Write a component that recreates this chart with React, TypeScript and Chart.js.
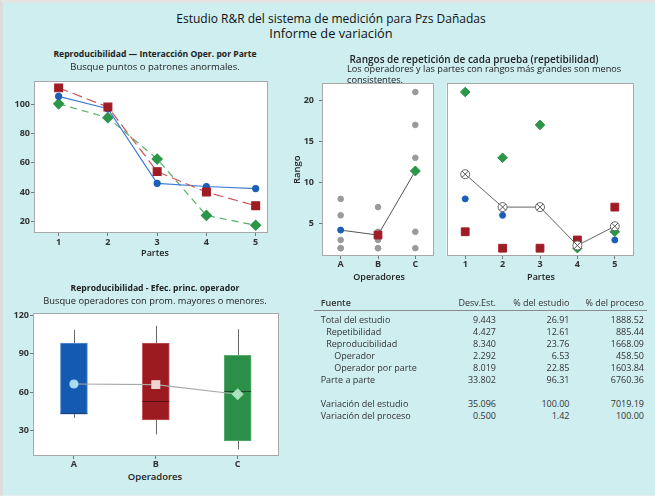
import React, { useEffect, useRef } from 'react';
import { Chart, registerables } from 'chart.js';
Chart.register(...registerables);

const FONT = "'Open Sans', sans-serif";

// ---------- data ----------
const parts = ['1', '2', '3', '4', '5'];
const operators = ['A', 'B', 'C'];

// Interaction plot: average measurement per part, by operator
const avgA = [105.5, 97, 46, 43.8, 42.4];
const avgB = [111.3, 98.2, 54, 40, 30.7];
const avgC = [100.4, 90.9, 62.6, 24, 17.3];

// Ranges per part, by operator
const rangeA = [8, 6, 2, 2, 3];
const rangeB = [4, 2, 2, 3, 7];
const rangeC = [21, 13, 17, 2, 4];

// Box plot (per operator)
const boxMin = [40, 27, 15.4];
const boxQ1 = [43, 38.4, 22];
const boxMed = [44, 53.5, 61.3];
const boxQ3 = [98.4, 98.4, 89];
const boxMax = [108.8, 112, 109.3];
const boxMean = [66.5, 66, 58.5];

const interTicks = [20, 40, 60, 80, 100];
const rangeTicks = [5, 10, 15, 20];
const boxTicks = [30, 60, 90, 120];

// Table
const tableHeaders = ['Fuente', 'Desv.Est.', '% del estudio', '% del proceso'];
const tableSources = ['Total del estudio', 'Repetibilidad', 'Reproducibilidad', 'Operador', 'Operador por parte', 'Parte a parte', 'Variación del estudio', 'Variación del proceso'];
const tableIndent = [0, 1, 1, 2, 2, 0, 0, 0];
const tableSd = ['9.443', '4.427', '8.340', '2.292', '8.019', '33.802', '35.096', '0.500'];
const tableStudy = ['26.91', '12.61', '23.76', '6.53', '22.85', '96.31', '100.00', '1.42'];
const tableProcess = ['1888.52', '885.44', '1668.09', '458.50', '1603.84', '6760.36', '7019.19', '100.00'];

// ---------- styles ----------
const blueM = '#1a5fb8';
const redM = '#a01c24';
const greenM = '#2c9648';
const grayP = '#9a9a9a';

const mean = (a: number[]) => a.reduce((s, v) => s + v, 0) / a.length;

const tickFont = { family: FONT, size: 9, weight: 'bold' as const };

const framePlugin = {
  id: 'frame',
  beforeDraw(chart: any) {
    const { ctx, chartArea: a } = chart;
    ctx.save();
    ctx.fillStyle = '#ffffff';
    ctx.fillRect(a.left, a.top, a.right - a.left, a.bottom - a.top);
    ctx.restore();
  },
  beforeDatasetsDraw(chart: any) {
    const { ctx, chartArea: a } = chart;
    ctx.save();
    ctx.strokeStyle = '#a8a8a8';
    ctx.lineWidth = 1;
    ctx.strokeRect(Math.round(a.left) + 0.5, Math.round(a.top) + 0.5, Math.round(a.right - a.left) - 1, Math.round(a.bottom - a.top) - 1);
    ctx.restore();
  },
};

function yScale(min: number, max: number, ticks: number[], width: number, tickLen: number, pad: number, display = true) {
  return {
    type: 'linear' as const,
    min,
    max,
    display,
    afterBuildTicks: (s: any) => { s.ticks = ticks.map((v) => ({ value: v })); },
    afterFit: (s: any) => { s.width = width; },
    grid: { drawOnChartArea: false, drawTicks: true, tickLength: tickLen, color: '#777' },
    border: { display: false },
    ticks: { font: tickFont, color: '#333', padding: pad },
  };
}

function xCat(height: number, tickLen: number, pad: number) {
  return {
    type: 'category' as const,
    offset: true,
    afterFit: (s: any) => { s.height = height; },
    grid: { drawOnChartArea: false, drawTicks: true, tickLength: tickLen, color: '#777', offset: false },
    border: { display: false },
    ticks: { font: tickFont, color: '#333', padding: pad },
  };
}

const boxPlugin = {
  id: 'boxparts',
  beforeDatasetsDraw(chart: any) {
    const x = chart.scales.x, y = chart.scales.y, ctx = chart.ctx;
    ctx.save();
    ctx.strokeStyle = '#6a6a6a';
    ctx.lineWidth = 1;
    operators.forEach((_, i) => {
      const px = Math.round(x.getPixelForValue(i)) + 0.5;
      ctx.beginPath();
      ctx.moveTo(px, y.getPixelForValue(boxMax[i]));
      ctx.lineTo(px, y.getPixelForValue(boxQ3[i]));
      ctx.moveTo(px, y.getPixelForValue(boxQ1[i]));
      ctx.lineTo(px, y.getPixelForValue(boxMin[i]));
      ctx.stroke();
    });
    ctx.restore();
  },
  afterDatasetDraw(chart: any, args: any) {
    if (args.index !== 1) return;
    const y = chart.scales.y, ctx = chart.ctx;
    const meta = chart.getDatasetMeta(1);
    ctx.save();
    ctx.strokeStyle = 'rgba(0,0,0,0.45)';
    ctx.lineWidth = 1;
    meta.data.forEach((bar: any, i: number) => {
      const { x, width } = bar.getProps(['x', 'width'], true);
      const py = Math.round(y.getPixelForValue(boxMed[i])) + 0.5;
      ctx.beginPath();
      ctx.moveTo(x - width / 2, py);
      ctx.lineTo(x + width / 2, py);
      ctx.stroke();
    });
    ctx.restore();
  },
};

type TP = { x: number; y: number; s?: number; w?: any; a?: 'left' | 'center' | 'right'; c?: string; rot?: boolean; children: any };
function T({ x, y, s = 9.5, w = 'normal', a = 'center', c = '#222', rot = false, children }: TP) {
  const lh = s + 4;
  let tx = '0';
  if (a === 'center') tx = '-50%';
  if (a === 'right') tx = '-100%';
  const style: React.CSSProperties = {
    position: 'absolute',
    left: x,
    top: y - lh / 2,
    fontFamily: FONT,
    fontSize: s,
    fontWeight: w,
    lineHeight: lh + 'px',
    color: c,
    whiteSpace: 'nowrap',
    transform: rot ? `translateX(-50%) rotate(-90deg)` : `translateX(${tx})`,
    transformOrigin: 'center center',
  };
  return <div style={style}>{children}</div>;
}

export default function App() {
  const c1 = useRef<HTMLCanvasElement>(null);
  const c2 = useRef<HTMLCanvasElement>(null);
  const c3 = useRef<HTMLCanvasElement>(null);
  const c4 = useRef<HTMLCanvasElement>(null);

  useEffect(() => {
    const charts: Chart[] = [];
    const base = {
      responsive: false,
      animation: false as const,
      plugins: { legend: { display: false }, tooltip: { enabled: false }, title: { display: false } },
    };

    // Interaction plot
    const pnum = parts.map(Number);
    charts.push(new Chart(c1.current!, {
      type: 'line',
      data: {
        datasets: [
          { data: avgB.map((v, i) => ({ x: pnum[i], y: v })), borderColor: '#c8545a', borderWidth: 1.2, borderDash: [10, 5], pointStyle: 'rect', pointRadius: 5.5, pointBackgroundColor: redM, pointBorderColor: redM, order: 0 },
          { data: avgA.map((v, i) => ({ x: pnum[i], y: v })), borderColor: '#3f7cd6', borderWidth: 1.2, pointStyle: 'circle', pointRadius: 3, pointBackgroundColor: blueM, pointBorderColor: blueM, order: 1 },
          { data: avgC.map((v, i) => ({ x: pnum[i], y: v })), borderColor: '#54b06a', borderWidth: 1.2, borderDash: [7, 5], pointStyle: 'rectRot', pointRadius: 5, pointBackgroundColor: greenM, pointBorderColor: greenM, order: 2 },
        ],
      },
      options: {
        ...base,
        layout: { padding: { top: 11, right: 17, left: 0, bottom: 0 } },
        scales: {
          x: {
            type: 'linear', min: 0.5, max: 5.25,
            afterBuildTicks: (s: any) => { s.ticks = pnum.map((v) => ({ value: v })); },
            afterFit: (s: any) => { s.height = 22; },
            grid: { drawOnChartArea: false, drawTicks: true, tickLength: 3, color: '#777' },
            border: { display: false },
            ticks: { font: tickFont, color: '#333', padding: 1 },
          },
          y: yScale(12, 116, interTicks, 34, 3, 1),
        },
      },
      plugins: [framePlugin],
    } as any));

    // Range by operator
    const grayPts = [
      ...rangeA.map((v) => ({ x: 'A', y: v })),
      ...rangeB.map((v) => ({ x: 'B', y: v })),
      ...rangeC.map((v) => ({ x: 'C', y: v })),
    ];
    charts.push(new Chart(c2.current!, {
      type: 'line',
      data: {
        labels: operators,
        datasets: [
          { data: [mean(rangeA), mean(rangeB), mean(rangeC)], borderColor: '#555', borderWidth: 1, pointStyle: ['circle', 'rect', 'rectRot'], pointRadius: [3, 5.5, 5], pointBackgroundColor: [blueM, redM, greenM], pointBorderColor: [blueM, redM, greenM], order: 0 },
          { data: grayPts, showLine: false, pointStyle: 'circle', pointRadius: 2.8, pointBackgroundColor: grayP, pointBorderColor: grayP, order: 1 },
        ],
      },
      options: {
        ...base,
        layout: { padding: { top: 11, right: 3, left: 0, bottom: 0 } },
        scales: {
          x: xCat(15, 3, 0),
          y: yScale(1.05, 22.1, rangeTicks, 32, 3, 5),
        },
      },
      plugins: [framePlugin],
    } as any));

    // Range by part
    const partMeans = parts.map((_, i) => (rangeA[i] + rangeB[i] + rangeC[i]) / 3);
    charts.push(new Chart(c3.current!, {
      type: 'line',
      data: {
        labels: parts,
        datasets: [
          { data: partMeans, showLine: false, pointStyle: 'crossRot', pointRadius: 4.5, pointBorderWidth: 1, pointBorderColor: '#555', order: 0 },
          { data: partMeans, borderColor: '#666', borderWidth: 1, pointStyle: 'circle', pointRadius: 4.5, pointBackgroundColor: '#fff', pointBorderColor: '#666', pointBorderWidth: 1, order: 1 },
          { data: rangeC, showLine: false, pointStyle: 'rectRot', pointRadius: 4.8, pointBackgroundColor: greenM, pointBorderColor: greenM, order: 2 },
          { data: rangeB, showLine: false, pointStyle: 'rect', pointRadius: 5.5, pointBackgroundColor: redM, pointBorderColor: redM, order: 3 },
          { data: rangeA, showLine: false, pointStyle: 'circle', pointRadius: 3, pointBackgroundColor: blueM, pointBorderColor: blueM, order: 4 },
        ],
      },
      options: {
        ...base,
        layout: { padding: { top: 11, right: 3, left: 6, bottom: 0 } },
        scales: {
          x: xCat(15, 3, 0),
          y: yScale(1.05, 22.1, rangeTicks, 0, 3, 5, false),
        },
      },
      plugins: [framePlugin],
    } as any));

    // Box plot
    charts.push(new Chart(c4.current!, {
      type: 'bar',
      data: {
        labels: operators,
        datasets: [
          { type: 'line', data: boxMean, borderColor: '#a8a8a8', borderWidth: 1.2, pointStyle: ['circle', 'rect', 'rectRot'], pointRadius: [4, 5.5, 5.2], pointBackgroundColor: ['#a9dcf2', '#f2d3d3', '#a9e2bd'], pointBorderColor: ['#a9dcf2', '#f2d3d3', '#a9e2bd'], order: 0 },
          { type: 'bar', data: boxQ1.map((q, i) => [q, boxQ3[i]]), backgroundColor: ['#1459b2', '#9b1b21', '#2b8f47'], borderColor: ['#5d90d4', '#c05a5e', '#5eae74'], borderWidth: 1, borderSkipped: false, barThickness: 27, order: 1 },
        ],
      },
      options: {
        ...base,
        layout: { padding: { top: 13, right: 6, left: 0, bottom: 0 } },
        scales: {
          x: xCat(14, 3, 0),
          y: yScale(10.2, 122, boxTicks, 33, 3, 1),
        },
      },
      plugins: [framePlugin, boxPlugin],
    } as any));

    return () => { charts.forEach((c) => c.destroy()); };
  }, []);

  const rowY = (i: number) => (i < 6 ? 319.7 + 12 * i : 403.7 + 12 * (i - 6));
  const indentPx = [0, 5.5, 13.5];
  const ts = 9;

  return (
    <div style={{ position: 'fixed', left: 0, top: 0, width: 655, height: 496, background: '#ceeef0', overflow: 'hidden', boxSizing: 'border-box', borderTop: '3px solid #e4e4e4', borderLeft: '3px solid #dcdcdc', borderBottom: '1px solid #e4eeee' }}>
      <div style={{ position: 'absolute', left: -3, top: -3, width: 655, height: 496 }}>
        <canvas ref={c1} width={285} height={185} style={{ position: 'absolute', left: 0, top: 70 }} />
        <canvas ref={c2} width={150} height={199} style={{ position: 'absolute', left: 290, top: 72 }} />
        <canvas ref={c3} width={200} height={199} style={{ position: 'absolute', left: 440, top: 72 }} />
        <canvas ref={c4} width={285} height={170} style={{ position: 'absolute', left: 0, top: 300 }} />

        <T x={331} y={19} s={12} c="#111">Estudio R&amp;R del sistema de medición para Pzs Dañadas</T>
        <T x={331} y={33} s={12.8} c="#111">Informe de variación</T>

        <T x={155} y={54} s={8.6} w="bold">Reproducibilidad — Interacción Oper. por Parte</T>
        <T x={155} y={67} s={9.5}>Busque puntos o patrones anormales.</T>
        <T x={155} y={252} s={9} w={600}>Partes</T>

        <T x={474} y={59} s={10} w={600}>Rangos de repetición de cada prueba (repetibilidad)</T>
        <T x={347} y={68.5} s={9.2} a="left">Los operadores y las partes con rangos más grandes son menos</T>
        <T x={347} y={80} s={9.2} a="left">consistentes.</T>
        <T x={297} y={170} s={9.5} w={600} rot>Rango</T>
        <T x={379} y={276} s={9} w={600}>Operadores</T>
        <T x={541} y={276} s={9} w={600}>Partes</T>

        <T x={155} y={288} s={8.6} w="bold">Reproducibilidad - Efec. princ. operador</T>
        <T x={155} y={301} s={9.3}>Busque operadores con prom. mayores o menores.</T>
        <T x={155} y={477} s={9.5} w={600}>Operadores</T>

        <T x={320.7} y={302} s={ts} w={600} a="left" c="#333">{tableHeaders[0]}</T>
        <T x={496} y={302} s={ts} a="right" c="#333">{tableHeaders[1]}</T>
        <T x={569.5} y={302} s={ts} a="right" c="#333">{tableHeaders[2]}</T>
        <T x={644} y={302} s={ts} a="right" c="#333">{tableHeaders[3]}</T>
        <div style={{ position: 'absolute', left: 314, top: 310, width: 333, height: 1, background: '#8a8a8a' }} />
        {tableSources.map((src, i) => (
          <React.Fragment key={i}>
            <T x={320.7 + indentPx[tableIndent[i]]} y={rowY(i)} s={ts} a="left" c="#333">{src}</T>
            <T x={496} y={rowY(i)} s={ts} a="right" c="#333">{tableSd[i]}</T>
            <T x={569.5} y={rowY(i)} s={ts} a="right" c="#333">{tableStudy[i]}</T>
            <T x={644} y={rowY(i)} s={ts} a="right" c="#333">{tableProcess[i]}</T>
          </React.Fragment>
        ))}
      </div>
    </div>
  );
}
